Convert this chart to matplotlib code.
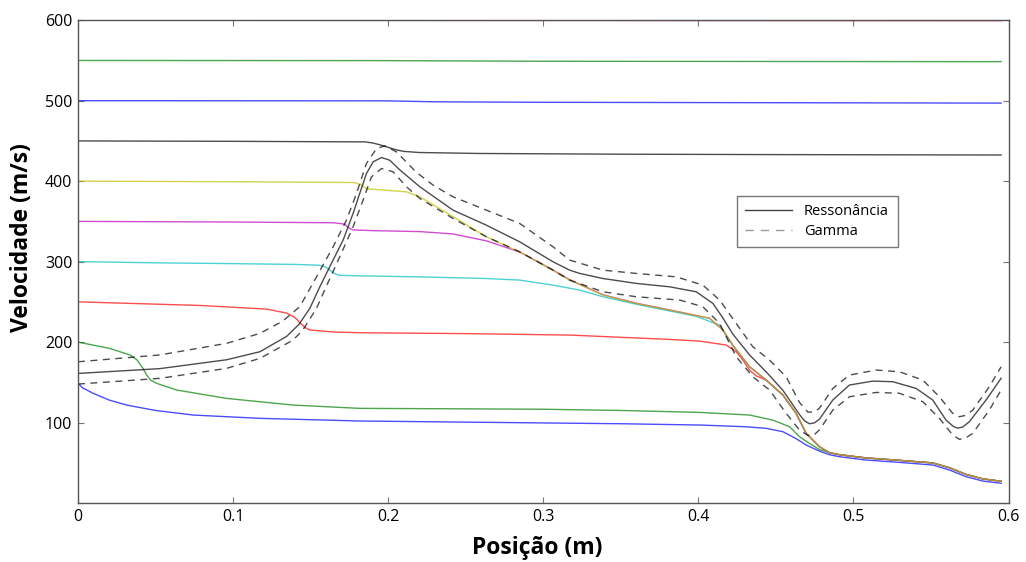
"""Velocidade ao longo do tubo: curvas de choque + ressonância / gamma."""

import matplotlib

matplotlib.use("Agg")
import matplotlib.pyplot as plt
from matplotlib.lines import Line2D

FONT = "Open Sans"

# --- data --------------------------------------------------------------------
# shared pieces of the low-velocity curves
X_MERGE = [0.4222, 0.433, 0.4437, 0.4545, 0.463, 0.4695, 0.478]
V_MERGE = [196, 169.3, 152.8, 134.2, 111.4, 86.5, 70]
X_TAIL = [0.4845, 0.491, 0.5081, 0.5296, 0.5511, 0.5619, 0.5726, 0.5833, 0.5952]
V_TAIL = [62.5, 60, 56, 53, 49.8, 43.8, 35.5, 30, 27]
V_TAIL_BLUE = [60, 57.5, 53.4, 50.5, 47.2, 41, 32.7, 27.3, 24.5]

x150 = [0, 0.003, 0.0099, 0.02, 0.0314, 0.05, 0.0743, 0.1173, 0.1817, 0.25, 0.3, 0.35,
        0.4008, 0.43, 0.4437, 0.4545, 0.463, 0.4695, 0.478]
v150 = [149, 143, 136.2, 128, 121.7, 115, 109.3, 105.2, 101.9, 100.5, 99.5, 98.5,
        96.9, 94.8, 92.8, 88.6, 80, 72, 64.5]

x200 = [0, 0.0206, 0.0335, 0.038, 0.042, 0.0443, 0.047, 0.0507, 0.0636, 0.0958,
        0.1387, 0.1817, 0.25, 0.3, 0.35, 0.4008, 0.433, 0.448, 0.4588, 0.4652,
        0.4716, 0.478]
v200 = [200, 192, 184, 178, 167, 159, 152.5, 148.7, 140.4, 130,
        121.7, 117.6, 117, 116.5, 115, 112.6, 109.3, 103, 94.8, 82.4,
        74.1, 66.5]

x250 = [0, 0.0786, 0.1216, 0.1345, 0.1395, 0.1415, 0.143, 0.1465, 0.1495, 0.1644,
        0.1817, 0.25, 0.317, 0.3814, 0.4008, 0.418, 0.4244, 0.4287, 0.433, 0.4373]
v250 = [250, 245.5, 241, 236, 231, 227.5, 224, 218, 215, 212.5,
        211.6, 210.5, 208.7, 203.3, 201.2, 196.3, 188, 177.6, 165, 158]

x300 = [0, 0.05, 0.1, 0.14, 0.155, 0.1595, 0.1624, 0.1655, 0.1688, 0.18,
        0.2204, 0.2633, 0.2848, 0.3063, 0.3235, 0.3385, 0.36, 0.3986, 0.4137]
v300 = [300, 298.5, 297.5, 296.5, 295.6, 293.5, 289.4, 285, 283, 282.4,
        281, 279, 277, 270.8, 264.6, 256.3, 247, 232, 221]

x350 = [0, 0.1, 0.165, 0.172, 0.1745, 0.177, 0.19, 0.2204, 0.2418, 0.2633,
        0.2848, 0.3063, 0.317, 0.3385, 0.36, 0.3814, 0.4072, 0.4158]
v350 = [350, 349.2, 348.3, 346.5, 342, 339.5, 338.5, 337.3, 334.4, 325.8,
        312, 289.5, 277.5, 258.8, 248.3, 240, 229.6, 215]

x400 = [0, 0.1, 0.178, 0.182, 0.186, 0.2, 0.2118, 0.2204, 0.2418, 0.2633,
        0.2848, 0.3063, 0.317, 0.3385, 0.36, 0.3814, 0.4072, 0.4158]
v400 = [400, 399.3, 398.3, 396, 390.5, 388.5, 386.7, 380.5, 355.8, 330.9,
        312, 289, 277, 258.4, 248, 239.8, 229.4, 214.9]

x450 = [0, 0.1, 0.185, 0.19, 0.195, 0.2, 0.205, 0.21, 0.22, 0.259, 0.35, 0.45, 0.5952]
v450 = [450, 449.5, 448.8, 447.5, 445, 442, 439, 437, 435.6, 434.4, 433.5, 433, 432.5]

x500 = [0, 0.2, 0.23, 0.3, 0.45, 0.5952]
v500 = [500, 499.8, 498.6, 498, 497.5, 497]

x550 = [0, 0.2, 0.3, 0.5952]
v550 = [550, 549.8, 549, 548.5]

x600 = [0, 0.5952]
v600 = [600, 599.5]

# ressonância (solid) and gamma (dashed) bounds
x_res = [0, 0.0528, 0.0958, 0.1173, 0.1345, 0.1425, 0.1495, 0.156, 0.1645, 0.171,
         0.1774, 0.1817, 0.186, 0.1903, 0.1957, 0.201, 0.2075, 0.2204, 0.2418, 0.2633,
         0.2848, 0.3063, 0.317, 0.3235, 0.3385, 0.36, 0.3814, 0.3986, 0.4094, 0.4158,
         0.4222, 0.433, 0.4437, 0.4545, 0.4652, 0.4685, 0.4716, 0.4748, 0.478, 0.4867,
         0.4974, 0.5125, 0.5254, 0.5404, 0.5511, 0.5597, 0.5645, 0.5672, 0.5705, 0.5747,
         0.5855, 0.5952]
v_res = [161, 167, 178, 188, 207, 222, 242, 269, 302, 327,
         360, 385, 409.5, 424, 429.4, 426, 414, 393, 364, 345.3,
         324.6, 299.8, 289.4, 285.3, 279, 272.9, 268.7, 262.5, 248, 230,
         210, 184, 163, 140, 110, 102, 98.5, 99.5, 104, 128,
         146.6, 151.5, 150.7, 142.4, 128, 103, 95, 93, 94.5, 101,
         128, 155]

x_up = [0, 0.0528, 0.0958, 0.1173, 0.132, 0.143, 0.1538, 0.1645, 0.1731, 0.1796,
        0.186, 0.1925, 0.1978, 0.2053, 0.2182, 0.229, 0.2418, 0.2633, 0.2848, 0.3063,
        0.317, 0.3385, 0.36, 0.3857, 0.4029, 0.4137, 0.4244, 0.4351, 0.4459, 0.4566,
        0.4652, 0.4706, 0.4745, 0.478, 0.4867, 0.4974, 0.5146, 0.5296, 0.5447, 0.5554,
        0.564, 0.5683, 0.5725, 0.5769, 0.5876, 0.5952]
v_up = [175.5, 184, 198.4, 210.8, 226, 244, 281, 318.4, 351.6, 384.7,
        422, 440.6, 443.9, 436.4, 411, 395, 380.5, 364, 347.4, 318.4,
        301.9, 289.4, 285.3, 281.1, 270.8, 252.2, 223.2, 194.2, 177.6, 156.9,
        125, 113, 113, 117.6, 142.4, 159, 165.2, 163.1, 152.8, 132,
        111.4, 107.2, 109, 115.5, 144.5, 169.3]

x_lo = [0, 0.0528, 0.0958, 0.1173, 0.1387, 0.145, 0.1538, 0.160, 0.1688, 0.1774,
        0.1838, 0.1892, 0.1957, 0.2032, 0.2118, 0.2204, 0.2418, 0.2633, 0.2848, 0.3063,
        0.317, 0.3385, 0.36, 0.388, 0.4029, 0.4137, 0.4244, 0.4351, 0.4459, 0.4566,
        0.4652, 0.4706, 0.4745, 0.478, 0.4867, 0.4974, 0.5146, 0.5296, 0.5447, 0.5554,
        0.564, 0.5683, 0.5725, 0.5769, 0.5876, 0.5952]
v_lo = [147.8, 154.9, 167.3, 179.7, 202.5, 215, 242, 268.7, 306, 343.3,
        376.4, 405.3, 415.7, 411.6, 393, 378.5, 353.7, 330.9, 312.2, 289.4,
        277, 262.5, 256.3, 252.2, 243.9, 223.2, 181.8, 156.9, 140.4, 111.4,
        90.7, 84, 84.5, 90.7, 115.5, 132, 137.4, 136.4, 125.9, 105.2,
        84.5, 79.1, 81, 86.5, 115.5, 140.4]

XTICKS = [0, 0.1, 0.2, 0.3, 0.4, 0.5, 0.6]
XTICK_LABELS = ["0", "0.1", "0.2", "0.3", "0.4", "0.5", "0.6"]
YTICKS = [0, 100, 200, 300, 400, 500, 600]
YTICK_LABELS = ["", "100", "200", "300", "400", "500", "600"]

# --- curves: (x, v, colour); low ones get the shared merge + tail -----------
CURVES = [
    (x150 + X_TAIL, v150 + V_TAIL_BLUE, "b"),
    (x200 + X_TAIL, v200 + V_TAIL, "g"),
    (x250 + X_MERGE[2:] + X_TAIL, v250 + V_MERGE[2:] + V_TAIL, "r"),
    (x300 + X_MERGE + X_TAIL, v300 + V_MERGE + V_TAIL, "c"),
    (x350 + X_MERGE + X_TAIL, v350 + V_MERGE + V_TAIL, "m"),
    (x400 + X_MERGE + X_TAIL, v400 + V_MERGE + V_TAIL, "y"),
    (x450, v450, "k"),
    (x500, v500, "b"),
    (x550, v550, "g"),
    (x600, v600, "r"),
]

fig = plt.figure(figsize=(10.26, 5.62), dpi=100)
ax = fig.add_axes([0.076, 0.105, 0.907, 0.859])

for xs, vs, c in CURVES:
    ax.plot(xs, vs, color=c, lw=1.0, alpha=0.7)

ax.plot(x_res, v_res, color="k", lw=1.0, alpha=0.7)
ax.plot(x_up, v_up, color="k", lw=1.0, alpha=0.7, dashes=(5, 4))
ax.plot(x_lo, v_lo, color="k", lw=1.0, alpha=0.7, dashes=(5, 4))

ax.set_xlim(0, 0.6)
ax.set_ylim(0, 600)
ax.set_xticks(XTICKS, XTICK_LABELS)
ax.set_yticks(YTICKS, YTICK_LABELS)
ax.tick_params(direction="in", length=4, width=0.8, color="#777777",
               top=True, right=True, labelsize=11.5, pad=4)
for lab in ax.get_xticklabels() + ax.get_yticklabels():
    lab.set_fontfamily(FONT)
for sp in ax.spines.values():
    sp.set_color("#555555")
    sp.set_linewidth(1.0)

ax.set_xlabel("Posição (m)", fontsize=16.5, fontweight="bold", family=FONT)
ax.set_ylabel("Velocidade (m/s)", fontsize=16.5, fontweight="bold", family=FONT)
ax.xaxis.set_label_coords(0.494, -0.068)
ax.yaxis.set_label_coords(-0.047, 0.55)

handles = [
    Line2D([], [], color="k", lw=1.0, alpha=0.75),
    Line2D([], [], color="#999999", lw=1.0, dashes=(6, 5)),
]
leg = ax.legend(handles, ["Ressonância", "Gamma"], loc="upper left",
                bbox_to_anchor=(0.7, 0.652), fancybox=False, framealpha=1,
                edgecolor="#777777", prop={"family": FONT, "size": 10.5},
                handlelength=3.2, borderpad=0.6, labelspacing=0.3)
leg.get_frame().set_linewidth(1.0)

fig.savefig("out.png", dpi=100)
